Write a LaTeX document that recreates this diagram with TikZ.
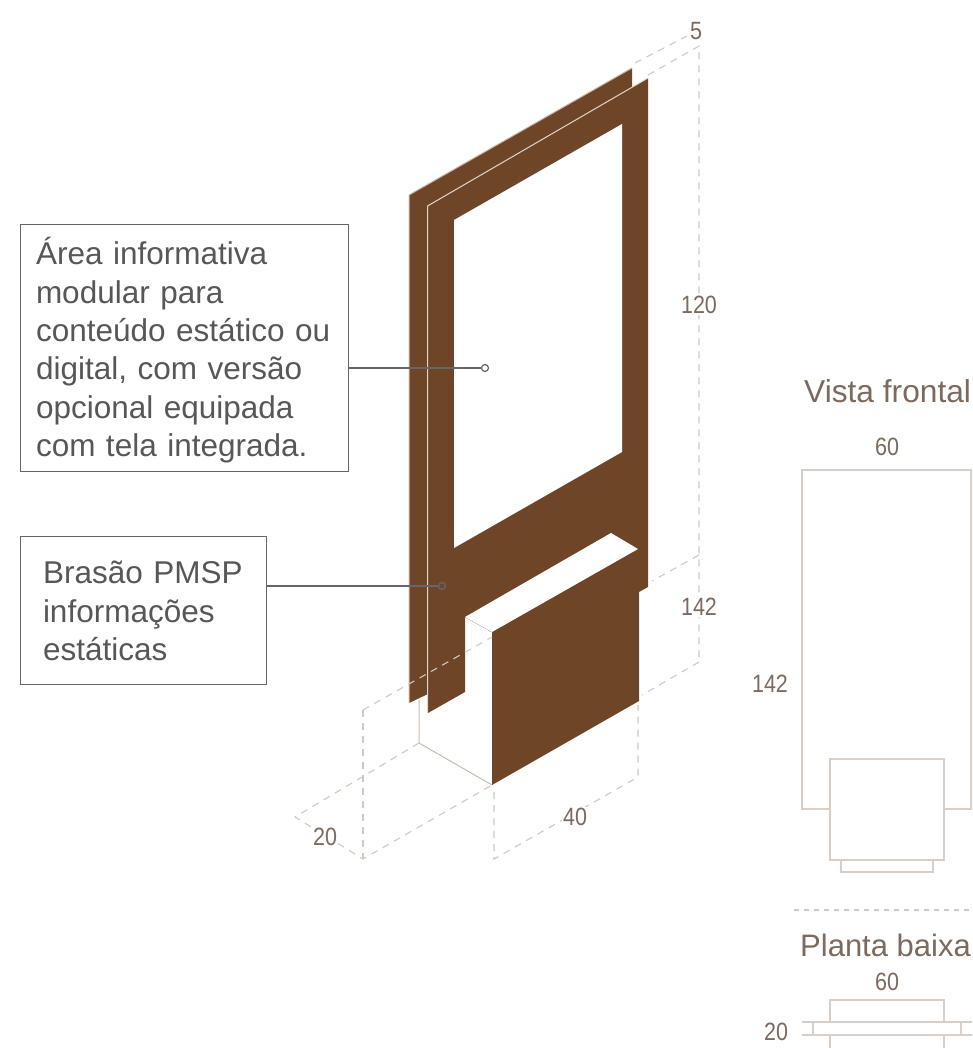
\documentclass[tikz,border=0pt]{standalone}
\usepackage{fontspec}
\setmainfont{Liberation Sans}
\newfontfamily\dimfont[FakeStretch=0.86]{Liberation Sans}
\usepackage{xcolor}
\definecolor{panelbrown}{HTML}{6F4527}
\definecolor{edgebeige}{HTML}{CBBBAE}
\definecolor{viewbeige}{HTML}{DACFC6}
\definecolor{dashbeige}{HTML}{D2C8C0}
\definecolor{labelbrown}{HTML}{7C6A5E}
\definecolor{leadergray}{HTML}{666666}

\begin{document}
\begin{tikzpicture}[x=1pt, y=-1pt,
    panel/.style={fill=panelbrown, draw=none},
    hole/.style={fill=white, draw=none},
    edge/.style={draw=edgebeige, line width=1pt},
    viewedge/.style={draw=viewbeige, line width=1.3pt},
    dimline/.style={draw=dashbeige, line width=1.1pt, dash pattern=on 7pt off 6pt},
    dimlabel/.style={fill=white, inner sep=1.5pt, text=labelbrown, font=\dimfont\fontsize{25}{25}\selectfont},
    viewtitle/.style={inner sep=0pt, text=labelbrown, font=\fontsize{31}{31}\selectfont},
    callout/.style={draw=leadergray, line width=1pt, anchor=north west, align=left, text=leadergray!85!black,
        font=\fontsize{31.5}{38.4}\selectfont},
    leader/.style={draw=leadergray, line width=1.2pt},
    dot/.style={circle, draw=leadergray, line width=1.2pt, minimum size=7pt, inner sep=0pt}]
    \useasboundingbox (0,0) rectangle (972,1048);

    % Coordinates for dimension lines
    \coordinate (backTop) at (635,63);
    \coordinate (fiveEnd) at (687,36);
    \coordinate (frontTop) at (648,75);
    \coordinate (rightTop) at (699,46);
    \coordinate (rightBottom) at (699,660);
    \coordinate (midRight) at (699,555);
    \coordinate (midPanel) at (652,581);
    \coordinate (lowRight) at (699,662);
    \coordinate (lowBox) at (642,695);
    \coordinate (backFoot) at (363,710);
    \coordinate (boxEdge) at (492,637);
    \coordinate (backBase) at (363,859);
    \coordinate (boxBack) at (419,743);
    \coordinate (farCorner) at (295,817);
    \coordinate (boxFoot) at (492,785);
    \coordinate (footStart) at (494,792);
    \coordinate (footEnd) at (494,859);
    \coordinate (sideStart) at (638,705);
    \coordinate (sideEnd) at (638,777);

    % Dimension lines
    \draw[dimline] (backTop) -- (fiveEnd);
    \draw[dimline] (frontTop) -- (rightTop) -- (rightBottom);
    \draw[dimline] (midRight) -- (midPanel);
    \draw[dimline] (lowRight) -- (lowBox);
    \draw[dimline] (backFoot) -- (backBase);
    \draw[dimline] (boxBack) -- (farCorner) -- (backBase) -- (boxFoot);
    \draw[dimline] (footStart) -- (footEnd) -- (sideEnd) -- (sideStart);

    % Back panel
    \fill[panel] (409,195) -- (632,68) -- (632,90) -- (428,206) -- (428,694) -- (409,703) -- cycle;
    \draw[edge] (409,703) -- (409,195) -- (632,68);
    % Box side
    \draw[edge] (419,700) -- (419,743) -- (492,785);
    \draw[edge, line width=0.8pt] (465,617) -- (492,632);
    % Front panel with box front
    \fill[panel] (428,206) -- (648,78) -- (648,587) -- (639,592) -- (639,701) -- (492,785)
        -- (492,632) -- (465,617) -- (465,692) -- (428,713) -- cycle;
    \draw[edge, draw=edgebeige!60] (427.5,713) -- (427.5,206) -- (648,78);
    \fill[hole] (454,220) -- (622,124) -- (622,452) -- (454,548) -- cycle;
    \fill[hole] (465,617) -- (611,533) -- (638,549) -- (492,632) -- cycle;
    \draw[dimline] (backFoot) -- (boxEdge);

    % Views on the right
    \draw[viewedge] (802,470) rectangle (971,809);
    \fill[white] (830,759) rectangle (944,860);
    \draw[viewedge] (830,759) rectangle (944,860);
    \draw[viewedge] (841,860) -- (841,872) -- (933,872) -- (933,860);
    \draw[dimline, dash pattern=on 5pt off 5pt] (794,910) -- (972,910);
    \draw[viewedge] (830,1022) -- (830,1000) -- (944,1000) -- (944,1022);
    \draw[viewedge, line width=1.7pt] (802,1022) -- (972,1022);
    \draw[viewedge, line width=1.7pt] (802,1035) -- (972,1035);
    \draw[viewedge] (813,1022) -- (813,1035);
    \draw[viewedge] (961,1022) -- (961,1035);
    \draw[viewedge] (830,1035) -- (830,1048);
    \draw[viewedge] (944,1035) -- (944,1048);

    % Labels
    \node[dimlabel, inner sep=0pt] (dimFive) at (696,31) {5};
    \node[dimlabel] (dimHeight) at (699,305) {120};
    \node[dimlabel] (dimTotal) at (699,607) {142};
    \node[dimlabel] (dimDepth) at (325,837) {20};
    \node[dimlabel] (dimWidth) at (575,817) {40};
    \node[dimlabel] (dimFront) at (770,684) {142};
    \node[dimlabel] (dimFrontTop) at (887,447) {60};
    \node[dimlabel] (dimPlanTop) at (887,982) {60};
    \node[dimlabel, fill=none] (dimPlanSide) at (776,1032) {20};
    \node[viewtitle, anchor=west, font=\fontsize{31.7}{32}\selectfont] (titleFront) at (804,391) {Vista frontal};
    \node[viewtitle, anchor=west] (titlePlan) at (800,945) {Planta baixa};

    % Callouts
    \node[callout, text width=297pt, minimum height=247pt, inner xsep=15.5pt] (infoBox) at (20,224)
        {\rule{0pt}{32pt}Área informativa\\modular para\\conteúdo estático ou\\digital, com versão\\opcional equipada\\com tela integrada.};
    \node[callout, text width=201pt, minimum height=148pt, inner xsep=22.5pt] (crestBox) at (20,536)
        {\rule{0pt}{24pt}Brasão PMSP\\informações\\estáticas};
    \node[dot, fill=white] (infoDot) at (485,368) {};
    \node[dot] (crestDot) at (442,586) {};
    \draw[leader] (infoBox.east |- infoDot) -- (infoDot);
    \draw[leader] (crestBox.east |- crestDot) -- (crestDot);
\end{tikzpicture}
\end{document}
